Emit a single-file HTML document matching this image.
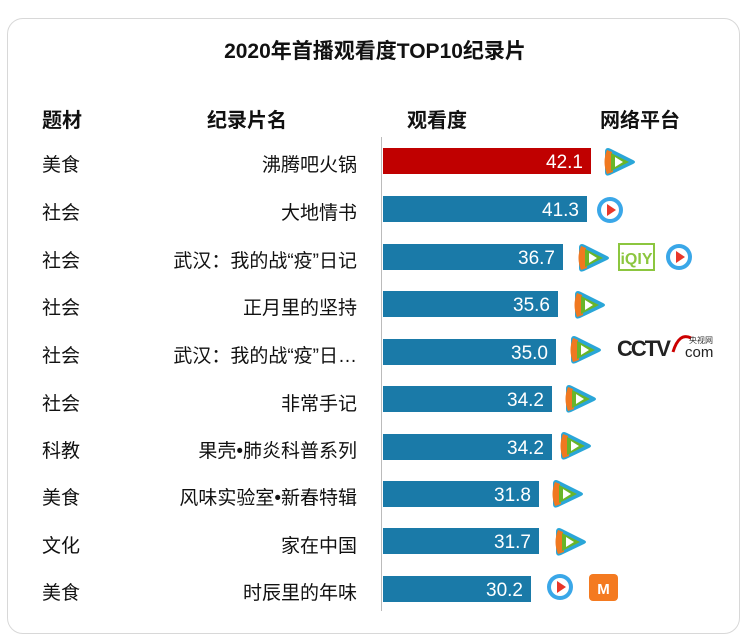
<!DOCTYPE html>
<html><head><meta charset="utf-8"><style>
body{margin:0;width:750px;height:640px;background:#fff;position:relative;overflow:hidden;font-family:"Liberation Sans","Noto Sans CJK SC",sans-serif;}
.card{position:absolute;left:7px;top:18px;width:731px;height:614px;border:1px solid #d8d8d8;border-radius:16px;}
.t{position:absolute;white-space:nowrap;color:#111;}
.title{left:0;width:750px;text-align:center;top:35px;font-size:21px;font-weight:bold;}
.h{top:104px;font-size:20px;font-weight:bold;}
.c{font-size:19px;left:42px;}
.n{font-size:19px;right:393px;text-align:right;}
.bar{position:absolute;left:383px;height:26px;background:#1a7aa8;color:#fff;font-size:19px;text-align:right;box-sizing:border-box;padding-right:8px;line-height:29px;}
.axis{position:absolute;left:381px;top:137px;width:1px;height:474px;background:#bbb;}
svg{position:absolute;}
</style></head><body>
<div class="card"></div>
<div class="t title">2020年首播观看度TOP10纪录片</div>
<div class="t h" style="left:42px">题材</div>
<div class="t h" style="left:207px">纪录片名</div>
<div class="t h" style="left:407px">观看度</div>
<div class="t h" style="left:600px">网络平台</div>
<div class="axis"></div>

<div class="t c" style="top:150px">美食</div><div class="t n" style="top:150px">沸腾吧火锅</div>
<div class="bar" style="top:148px;width:208px;background:#c00000">42.1</div>
<div class="t c" style="top:198px">社会</div><div class="t n" style="top:198px">大地情书</div>
<div class="bar" style="top:196px;width:204px">41.3</div>
<div class="t c" style="top:246px">社会</div><div class="t n" style="top:246px">武汉：我的战“疫”日记</div>
<div class="bar" style="top:244px;width:180px">36.7</div>
<div class="t c" style="top:293px">社会</div><div class="t n" style="top:293px">正月里的坚持</div>
<div class="bar" style="top:291px;width:175px">35.6</div>
<div class="t c" style="top:341px">社会</div><div class="t n" style="top:341px">武汉：我的战“疫”日…</div>
<div class="bar" style="top:339px;width:173px">35.0</div>
<div class="t c" style="top:389px">社会</div><div class="t n" style="top:389px">非常手记</div>
<div class="bar" style="top:386px;width:169px">34.2</div>
<div class="t c" style="top:436px">科教</div><div class="t n" style="top:436px">果壳•肺炎科普系列</div>
<div class="bar" style="top:434px;width:169px">34.2</div>
<div class="t c" style="top:483px">美食</div><div class="t n" style="top:483px">风味实验室•新春特辑</div>
<div class="bar" style="top:481px;width:156px">31.8</div>
<div class="t c" style="top:531px">文化</div><div class="t n" style="top:531px">家在中国</div>
<div class="bar" style="top:528px;width:156px">31.7</div>
<div class="t c" style="top:578px">美食</div><div class="t n" style="top:578px">时辰里的年味</div>
<div class="bar" style="top:576px;width:148px">30.2</div>

<svg width="750" height="640" style="left:0;top:0">
<defs>
<g id="tx"><path d="M6 1 Q3 1 3 5 L3 25 Q3 30 8 28 L31 17 Q35 15 31 13 L9 2 Q7 1 6 1Z" fill="#2aa6d8"/><path d="M5 3 Q0 15 5 27 L11 25 L10 5Z" fill="#f07820"/><path d="M9 6 L27 15 L9 24Z" fill="#69b52a"/><path d="M13 10 L21 15 L13 20Z" fill="#fff"/></g>
<g id="yk"><circle cx="14" cy="14" r="13" fill="#3aa7e8"/><circle cx="14" cy="14" r="9" fill="#fff"/><path d="M11 8 L20 14 L11 20Z" fill="#e8372a"/></g>
</defs>
<use href="#tx" x="602" y="147"/>
<use href="#yk" x="596" y="196"/>
<use href="#tx" x="576" y="243"/>
<g transform="translate(619,244)"><rect x="0" y="0" width="35" height="26" fill="#fff" stroke="#8cc63f" stroke-width="2"/><text x="17.5" y="20" font-size="16" font-weight="bold" fill="#8cc63f" text-anchor="middle" font-family="Liberation Sans">iQIY</text></g>
<use href="#yk" x="665" y="243"/>
<use href="#tx" x="572" y="290"/>
<use href="#tx" x="568" y="335"/>
<g transform="translate(617,330)"><text x="0" y="26" font-size="22" font-weight="bold" fill="#222" font-family="Liberation Sans" letter-spacing="-2">CCTV</text><path d="M56 22 Q62 2 74 8" stroke="#c00" stroke-width="3" fill="none"/><text x="72" y="13" font-size="8" fill="#333">央视网</text><text x="68" y="27" font-size="15" fill="#222" font-family="Liberation Sans">com</text></g>
<use href="#tx" x="563" y="384"/>
<use href="#tx" x="558" y="431"/>
<use href="#tx" x="550" y="479"/>
<use href="#tx" x="553" y="527"/>
<use href="#yk" x="546" y="573"/>
<rect x="589" y="574" width="29" height="27" rx="4" fill="#f47a20"/><text x="603.5" y="594" font-size="15" font-weight="bold" fill="#fff" text-anchor="middle" font-family="Liberation Sans">M</text>
</svg>
</body></html>
